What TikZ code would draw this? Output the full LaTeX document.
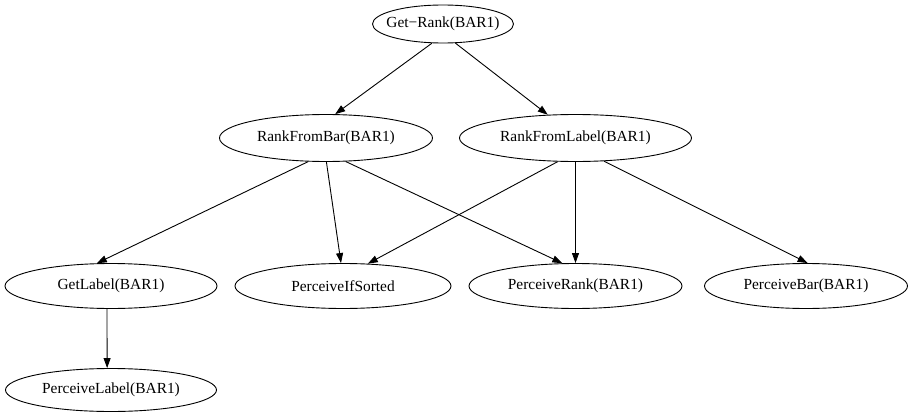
\documentclass[tikz,border=0pt]{standalone}
\usepackage{fontspec}
\setmainfont{Liberation Serif}
\usetikzlibrary{shapes.geometric,arrows.meta}
\newcommand\mytext[1]{\makebox[0pt]{#1}}
\begin{document}
\begin{tikzpicture}[x=1pt,y=-1pt,
  gnode/.style={ellipse, draw, line width=0.9pt, inner sep=0pt, font=\fontsize{15.4}{18}\selectfont},
  edge/.style={draw, line width=0.9pt, -{Triangle[length=10pt,width=7pt]}}]
\useasboundingbox (0,0) rectangle (911,412);
\node[gnode, minimum width=141pt, minimum height=38pt] (G) at (443,24) {\mytext{Get−Rank(BAR1)}};
\node[gnode, minimum width=213pt, minimum height=47pt] (RB) at (326,138) {\mytext{RankFromBar(BAR1)}};
\node[gnode, minimum width=232pt, minimum height=47pt] (RL) at (575.5,138) {\mytext{RankFromLabel(BAR1)}};
\node[gnode, minimum width=212pt, minimum height=45pt] (GL) at (111,286) {\mytext{GetLabel(BAR1)}};
\node[gnode, minimum width=216pt, minimum height=45pt] (PS) at (343,286) {\mytext{PerceiveIfSorted}};
\node[gnode, minimum width=213pt, minimum height=45pt] (PR) at (575.5,286) {\mytext{PerceiveRank(BAR1)}};
\node[gnode, minimum width=203pt, minimum height=45pt] (PB) at (806,286) {\mytext{PerceiveBar(BAR1)}};
\node[gnode, minimum width=211pt, minimum height=43pt] (PL) at (111,390) {\mytext{PerceiveLabel(BAR1)}};
\draw[edge] (G.-120.4) -- (RB.69);
\draw[edge] (G.-57.3) -- (RL.140.5);
\draw[edge] (RB.-127.9) -- (GL.122.1);
\draw[edge] (RB.-89) -- (PS.95);
\draw[edge] (RB.-50.6) -- (PR.120.2);
\draw[edge] (RL.-127.8) -- (PS.42.4);
\draw[edge] (RL.-90) -- (PR.90);
\draw[edge] (RL.-39.7) -- (PB.86);
\draw[edge] (GL.-100) -- (PL.100.5);
\end{tikzpicture}
\end{document}
